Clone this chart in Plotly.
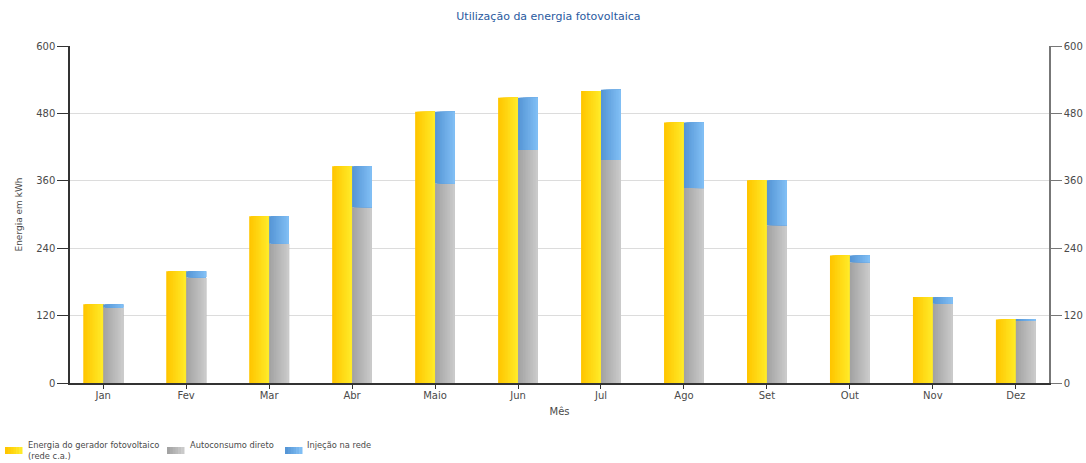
import plotly.graph_objects as go

# Monthly PV energy (kWh)
months = ["Jan", "Fev", "Mar", "Abr", "Maio", "Jun", "Jul", "Ago", "Set", "Out", "Nov", "Dez"]
pv_generation = [140, 199, 297, 386, 483, 508, 520, 464, 361, 227, 153, 113]
self_consumption = [134, 188, 248, 313, 355, 415, 397, 347, 281, 215, 141, 111]
grid_feed_in = [6, 11, 49, 73, 128, 93, 125, 117, 80, 12, 12, 2]

y_ticks = [0, 120, 240, 360, 480, 600]

series_names = ["Energia do gerador fotovoltaico<br>(rede c.a.)", "Autoconsumo direto", "Injeção na rede"]

BAR_W = 0.24
STRIPS = 12

YELLOW = ((255, 198, 0), (255, 234, 40))
GREY = ((163, 163, 163), (202, 202, 202))
BLUE = ((86, 150, 214), (128, 190, 244))


def lerp(c1, c2, t):
    return "rgb({},{},{})".format(*[round(a + (b - a) * t) for a, b in zip(c1, c2)])


def gradient_bar(fig, values, base, offset, colors):
    # horizontal gradient: overlapping strips, each reaching to the bar's right edge
    step = BAR_W / STRIPS
    for i in range(STRIPS):
        fig.add_trace(go.Bar(
            x=months, y=values, base=base,
            offset=offset + i * step, width=BAR_W - i * step,
            marker=dict(color=lerp(colors[0], colors[1], i / (STRIPS - 1)), line=dict(width=0)),
            showlegend=False, hoverinfo="skip",
        ))


fig = go.Figure()
gradient_bar(fig, pv_generation, None, -BAR_W, YELLOW)
gradient_bar(fig, self_consumption, None, 0.0, GREY)
gradient_bar(fig, grid_feed_in, self_consumption, 0.0, BLUE)

# right-hand mirror axis
fig.add_trace(go.Scatter(x=[months[0]], y=[None], yaxis="y2", showlegend=False, hoverinfo="skip"))

font = "DejaVu Sans, Verdana, sans-serif"
text_color = "#4a4a4a"

# legend below the plot: swatch + label per series (container pixels -> paper coords)
PLOT_L, PLOT_W, PLOT_T, PLOT_H = 70, 979, 46, 337
legend_items = [(5, 27, YELLOW), (167, 189, GREY), (285, 306, BLUE)]
shapes = []
annotations = []
for (sx, tx, cols), label in zip(legend_items, series_names):
    n = 6
    for k in range(n):
        x0 = sx + k * 17 / n
        shapes.append(dict(
            type="rect", xref="paper", yref="paper",
            x0=(x0 - PLOT_L) / PLOT_W, x1=(x0 + 17 / n + 0.5 - PLOT_L) / PLOT_W,
            y0=(PLOT_T + PLOT_H - 454) / PLOT_H, y1=(PLOT_T + PLOT_H - 447) / PLOT_H,
            fillcolor=lerp(cols[0], cols[1], k / (n - 1)), line=dict(width=0), layer="above",
        ))
    annotations.append(dict(
        text=label, xref="paper", yref="paper", showarrow=False, align="left",
        x=(tx - PLOT_L) / PLOT_W, y=(PLOT_T + PLOT_H - 439) / PLOT_H,
        xanchor="left", yanchor="top", borderpad=0,
        font=dict(size=8.3, color=text_color, family=font),
    ))

fig.update_layout(
    width=1086, height=463,
    margin=dict(l=70, r=37, t=46, b=80),
    paper_bgcolor="white", plot_bgcolor="white",
    barmode="overlay",
    font=dict(family=font, size=10, color=text_color),
    title=dict(text="Utilização da energia fotovoltaica", x=0.505, xanchor="center",
               y=0.965, yanchor="middle", font=dict(size=11, color="#2a5aa0", family=font)),
    xaxis=dict(
        range=[-0.4, 11.4], showgrid=False, showline=True, linecolor="#333333", linewidth=1.5,
        ticks="outside", ticklen=4, tickcolor="#333333", automargin=False,
        tickfont=dict(size=10, color=text_color), ticklabelstandoff=-2,
        title=dict(text="Mês", font=dict(size=10, color=text_color), standoff=8),
    ),
    yaxis=dict(
        range=[0, 600], tickvals=y_ticks, showgrid=True, gridcolor="#dcdcdc", gridwidth=1,
        showline=True, linecolor="#333333", linewidth=1.5, ticks="outside", ticklen=11,
        tickcolor="#333333", zeroline=False, tickfont=dict(size=10, color=text_color),
        automargin=False,
        title=dict(text="Energia em kWh", font=dict(size=9, color=text_color), standoff=12),
    ),
    yaxis2=dict(
        range=[0, 600], tickvals=y_ticks, overlaying="y", side="right", showgrid=False,
        showline=True, linecolor="#777777", linewidth=1.5, ticks="outside", ticklen=11,
        tickcolor="#777777", zeroline=False, tickfont=dict(size=10, color=text_color),
        automargin=False,
    ),
    shapes=shapes,
    annotations=annotations,
    showlegend=False,
)

fig.write_html("out.html")
